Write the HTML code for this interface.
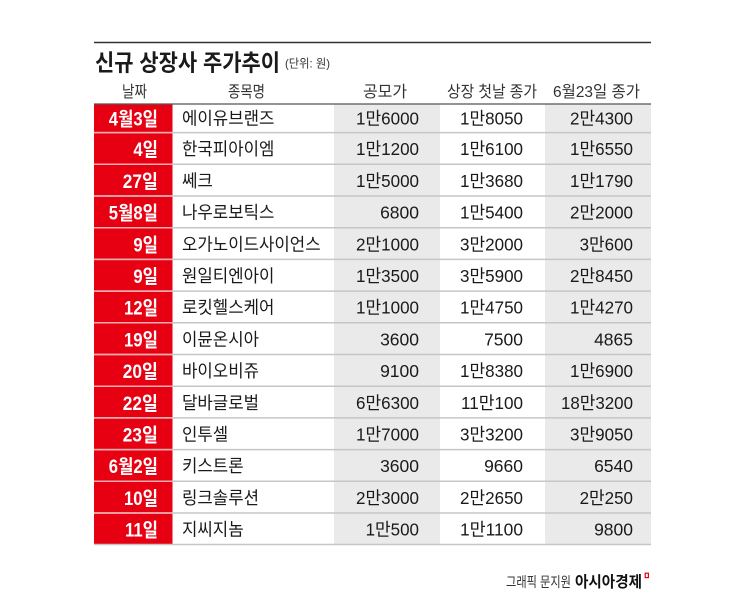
<!DOCTYPE html>
<html><head><meta charset="utf-8"><style>
html,body{margin:0;padding:0;background:#fff;}
svg{display:block;}
text{font-family:"Liberation Sans","Noto Sans CJK KR",sans-serif;}
</style></head><body>
<svg width="745" height="596" viewBox="0 0 745 596" xmlns="http://www.w3.org/2000/svg">
<rect x="0" y="0" width="745" height="596" fill="#fff"/>
<!-- top rule -->
<line x1="94" y1="42.5" x2="651" y2="42.5" stroke="#333" stroke-width="1.6"/>
<text x="95" y="70.5" font-size="23" font-weight="bold" fill="#1a1a1a" textLength="185" lengthAdjust="spacingAndGlyphs">신규 상장사 주가추이</text>
<text x="285" y="67.5" font-size="12" fill="#333" textLength="45" lengthAdjust="spacingAndGlyphs">(단위: 원)</text>
<!-- header -->
<g font-size="16" fill="#333" text-anchor="middle">
<text x="134.5" y="97" textLength="25" lengthAdjust="spacingAndGlyphs">날짜</text>
<text x="246.5" y="97" textLength="37" lengthAdjust="spacingAndGlyphs">종목명</text>
<text x="385" y="97" textLength="44" lengthAdjust="spacingAndGlyphs">공모가</text>
<text x="492" y="97" textLength="90" lengthAdjust="spacingAndGlyphs">상장 첫날 종가</text>
<text x="596.5" y="97" textLength="87" lengthAdjust="spacingAndGlyphs">6월23일 종가</text>
</g>
<!-- fills -->
<rect x="94" y="104" width="78.5" height="440.7" fill="#e60012"/>
<rect x="334" y="104" width="106" height="440.7" fill="#eaeaea"/>
<rect x="545" y="104" width="106" height="440.7" fill="#eaeaea"/>
<line x1="94" y1="104" x2="651" y2="104" stroke="#555" stroke-width="1.2"/>
<!-- separators -->
<g stroke="#c6c6c6" stroke-width="1.5">
<line x1="94" y1="132.6" x2="651" y2="132.6"/>
<line x1="94" y1="164.3" x2="651" y2="164.3"/>
<line x1="94" y1="196.0" x2="651" y2="196.0"/>
<line x1="94" y1="227.7" x2="651" y2="227.7"/>
<line x1="94" y1="259.4" x2="651" y2="259.4"/>
<line x1="94" y1="291.1" x2="651" y2="291.1"/>
<line x1="94" y1="322.8" x2="651" y2="322.8"/>
<line x1="94" y1="354.5" x2="651" y2="354.5"/>
<line x1="94" y1="386.2" x2="651" y2="386.2"/>
<line x1="94" y1="417.9" x2="651" y2="417.9"/>
<line x1="94" y1="449.6" x2="651" y2="449.6"/>
<line x1="94" y1="481.3" x2="651" y2="481.3"/>
<line x1="94" y1="513.0" x2="651" y2="513.0"/>
<line x1="94" y1="544.5" x2="651" y2="544.5"/>
</g>
<g stroke="#f3aeb0" stroke-width="1.5">
<line x1="94" y1="132.6" x2="172.5" y2="132.6"/>
<line x1="94" y1="164.3" x2="172.5" y2="164.3"/>
<line x1="94" y1="196.0" x2="172.5" y2="196.0"/>
<line x1="94" y1="227.7" x2="172.5" y2="227.7"/>
<line x1="94" y1="259.4" x2="172.5" y2="259.4"/>
<line x1="94" y1="291.1" x2="172.5" y2="291.1"/>
<line x1="94" y1="322.8" x2="172.5" y2="322.8"/>
<line x1="94" y1="354.5" x2="172.5" y2="354.5"/>
<line x1="94" y1="386.2" x2="172.5" y2="386.2"/>
<line x1="94" y1="417.9" x2="172.5" y2="417.9"/>
<line x1="94" y1="449.6" x2="172.5" y2="449.6"/>
<line x1="94" y1="481.3" x2="172.5" y2="481.3"/>
<line x1="94" y1="513.0" x2="172.5" y2="513.0"/>
</g>
<!-- dates -->
<g font-size="19" font-weight="bold" fill="#fff" text-anchor="end">
<text x="158" y="125.3" textLength="49.2" lengthAdjust="spacingAndGlyphs">4월3일</text>
<text x="158" y="156.2" textLength="24.6" lengthAdjust="spacingAndGlyphs">4일</text>
<text x="158" y="187.9" textLength="35.2" lengthAdjust="spacingAndGlyphs">27일</text>
<text x="158" y="219.6" textLength="49.2" lengthAdjust="spacingAndGlyphs">5월8일</text>
<text x="158" y="251.3" textLength="24.6" lengthAdjust="spacingAndGlyphs">9일</text>
<text x="158" y="283.0" textLength="24.6" lengthAdjust="spacingAndGlyphs">9일</text>
<text x="158" y="314.7" textLength="34" lengthAdjust="spacingAndGlyphs">12일</text>
<text x="158" y="346.4" textLength="34" lengthAdjust="spacingAndGlyphs">19일</text>
<text x="158" y="378.1" textLength="35.2" lengthAdjust="spacingAndGlyphs">20일</text>
<text x="158" y="409.8" textLength="35.2" lengthAdjust="spacingAndGlyphs">22일</text>
<text x="158" y="441.5" textLength="35.2" lengthAdjust="spacingAndGlyphs">23일</text>
<text x="158" y="473.2" textLength="49.2" lengthAdjust="spacingAndGlyphs">6월2일</text>
<text x="158" y="504.9" textLength="34" lengthAdjust="spacingAndGlyphs">10일</text>
<text x="158" y="536.6" textLength="33" lengthAdjust="spacingAndGlyphs">11일</text>
</g>
<!-- names -->
<g font-size="17.5" fill="#1a1a1a">
<text x="182" y="124.3" textLength="92.4" lengthAdjust="spacingAndGlyphs">에이유브랜즈</text>
<text x="182" y="155.2" textLength="92.4" lengthAdjust="spacingAndGlyphs">한국피아이엠</text>
<text x="182" y="186.9" textLength="30.8" lengthAdjust="spacingAndGlyphs">쎄크</text>
<text x="182" y="218.6" textLength="92.4" lengthAdjust="spacingAndGlyphs">나우로보틱스</text>
<text x="182" y="250.3" textLength="138.6" lengthAdjust="spacingAndGlyphs">오가노이드사이언스</text>
<text x="182" y="282.0" textLength="92.4" lengthAdjust="spacingAndGlyphs">원일티엔아이</text>
<text x="182" y="313.7" textLength="92.4" lengthAdjust="spacingAndGlyphs">로킷헬스케어</text>
<text x="182" y="345.4" textLength="77" lengthAdjust="spacingAndGlyphs">이뮨온시아</text>
<text x="182" y="377.1" textLength="77" lengthAdjust="spacingAndGlyphs">바이오비쥬</text>
<text x="182" y="408.8" textLength="77" lengthAdjust="spacingAndGlyphs">달바글로벌</text>
<text x="182" y="440.5" textLength="46.2" lengthAdjust="spacingAndGlyphs">인투셀</text>
<text x="182" y="472.2" textLength="61.6" lengthAdjust="spacingAndGlyphs">키스트론</text>
<text x="182" y="503.9" textLength="77" lengthAdjust="spacingAndGlyphs">링크솔루션</text>
<text x="182" y="535.6" textLength="61.6" lengthAdjust="spacingAndGlyphs">지씨지놈</text>
</g>
<!-- numbers -->
<g font-size="17.5" fill="#1a1a1a" text-anchor="end">
<text x="419" y="124.3" textLength="63" lengthAdjust="spacingAndGlyphs">1만6000</text>
<text x="523" y="124.3" textLength="63" lengthAdjust="spacingAndGlyphs">1만8050</text>
<text x="633" y="124.3" textLength="63" lengthAdjust="spacingAndGlyphs">2만4300</text>

<text x="419" y="155.2" textLength="63" lengthAdjust="spacingAndGlyphs">1만1200</text>
<text x="523" y="155.2" textLength="63" lengthAdjust="spacingAndGlyphs">1만6100</text>
<text x="633" y="155.2" textLength="63" lengthAdjust="spacingAndGlyphs">1만6550</text>

<text x="419" y="186.9" textLength="63" lengthAdjust="spacingAndGlyphs">1만5000</text>
<text x="523" y="186.9" textLength="63" lengthAdjust="spacingAndGlyphs">1만3680</text>
<text x="633" y="186.9" textLength="63" lengthAdjust="spacingAndGlyphs">1만1790</text>

<text x="419" y="218.6">6800</text>
<text x="523" y="218.6" textLength="63" lengthAdjust="spacingAndGlyphs">1만5400</text>
<text x="633" y="218.6" textLength="63" lengthAdjust="spacingAndGlyphs">2만2000</text>

<text x="419" y="250.3" textLength="63" lengthAdjust="spacingAndGlyphs">2만1000</text>
<text x="523" y="250.3" textLength="63" lengthAdjust="spacingAndGlyphs">3만2000</text>
<text x="633" y="250.3" textLength="53.4" lengthAdjust="spacingAndGlyphs">3만600</text>

<text x="419" y="282.0" textLength="63" lengthAdjust="spacingAndGlyphs">1만3500</text>
<text x="523" y="282.0" textLength="63" lengthAdjust="spacingAndGlyphs">3만5900</text>
<text x="633" y="282.0" textLength="63" lengthAdjust="spacingAndGlyphs">2만8450</text>

<text x="419" y="313.7" textLength="63" lengthAdjust="spacingAndGlyphs">1만1000</text>
<text x="523" y="313.7" textLength="63" lengthAdjust="spacingAndGlyphs">1만4750</text>
<text x="633" y="313.7" textLength="63" lengthAdjust="spacingAndGlyphs">1만4270</text>

<text x="419" y="345.4">3600</text>
<text x="523" y="345.4">7500</text>
<text x="633" y="345.4">4865</text>

<text x="419" y="377.1">9100</text>
<text x="523" y="377.1" textLength="63" lengthAdjust="spacingAndGlyphs">1만8380</text>
<text x="633" y="377.1" textLength="63" lengthAdjust="spacingAndGlyphs">1만6900</text>

<text x="419" y="408.8" textLength="63" lengthAdjust="spacingAndGlyphs">6만6300</text>
<text x="523" y="408.8" textLength="62" lengthAdjust="spacingAndGlyphs">11만100</text>
<text x="633" y="408.8" textLength="72" lengthAdjust="spacingAndGlyphs">18만3200</text>

<text x="419" y="440.5" textLength="63" lengthAdjust="spacingAndGlyphs">1만7000</text>
<text x="523" y="440.5" textLength="63" lengthAdjust="spacingAndGlyphs">3만3200</text>
<text x="633" y="440.5" textLength="63" lengthAdjust="spacingAndGlyphs">3만9050</text>

<text x="419" y="472.2">3600</text>
<text x="523" y="472.2">9660</text>
<text x="633" y="472.2">6540</text>

<text x="419" y="503.9" textLength="63" lengthAdjust="spacingAndGlyphs">2만3000</text>
<text x="523" y="503.9" textLength="63" lengthAdjust="spacingAndGlyphs">2만2650</text>
<text x="633" y="503.9" textLength="53.4" lengthAdjust="spacingAndGlyphs">2만250</text>

<text x="419" y="535.6" textLength="53.4" lengthAdjust="spacingAndGlyphs">1만500</text>
<text x="523" y="535.6" textLength="63" lengthAdjust="spacingAndGlyphs">1만1100</text>
<text x="633" y="535.6">9800</text>
</g>
<!-- footer -->
<text x="506" y="587" font-size="14" fill="#333" textLength="65" lengthAdjust="spacingAndGlyphs">그래픽 문지원</text>
<text x="575" y="587" font-size="15.5" font-weight="bold" fill="#111" textLength="67" lengthAdjust="spacingAndGlyphs">아시아경제</text>
<rect x="645.2" y="573.2" width="3.2" height="4.4" fill="none" stroke="#e60012" stroke-width="1.2"/>
</svg>
</body></html>
